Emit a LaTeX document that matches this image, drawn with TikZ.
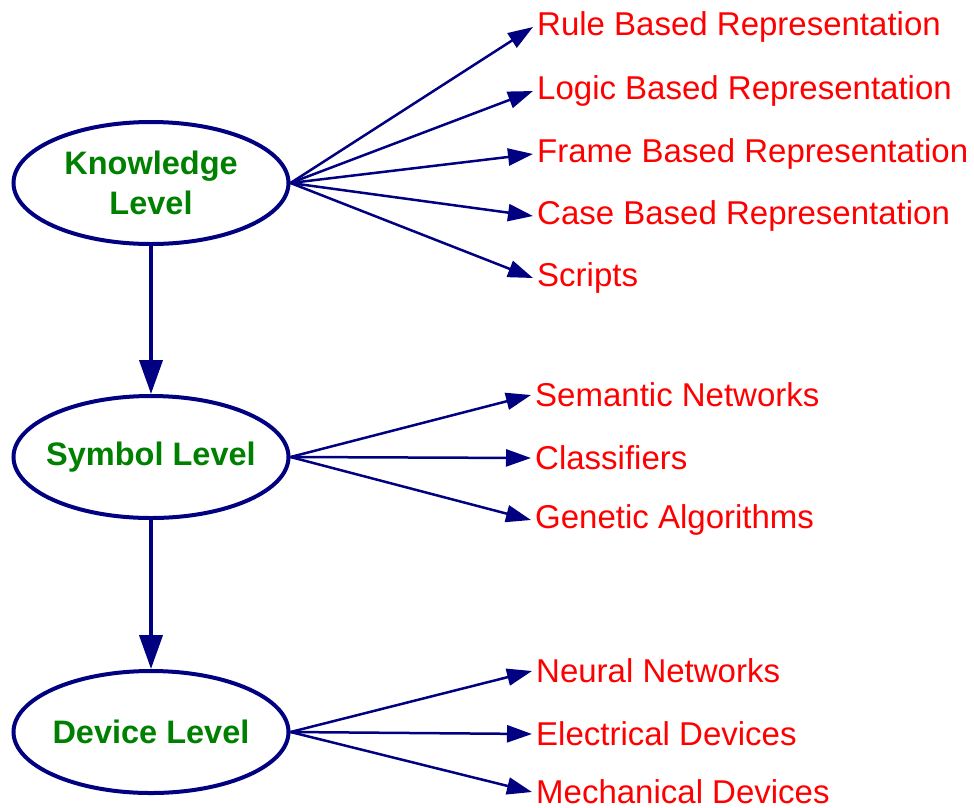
\documentclass[tikz,border=0pt]{standalone}
\usepackage{fontspec}
\setmainfont{Liberation Sans}
\usetikzlibrary{arrows.meta,shapes.geometric}
\definecolor{navyline}{RGB}{0,0,128}
\definecolor{levelgreen}{RGB}{0,128,0}
\begin{document}
\begin{tikzpicture}[x=1pt,y=-1pt,
    level/.style={ellipse,draw=navyline,line width=4pt,minimum width=275pt,minimum height=122pt,
      inner xsep=-40pt,inner ysep=0pt,align=center,text=levelgreen,font=\fontsize{32.5}{40}\selectfont\bfseries},
    item/.style={anchor=west,inner xsep=4pt,inner ysep=0pt,text=red,font=\fontsize{33}{38}\selectfont},
    down/.style={navyline,line width=4pt,-{Triangle[length=34pt,width=23pt]}},
    fan/.style={navyline,line width=2.5pt,-{Triangle[length=25pt,width=17pt]}}]

            \useasboundingbox (0,0) rectangle (974,807);

            % Levels
            \node[level] (know) at (151,183) {Knowledge\\Level};
            \node[level] (sym) at (151,457) {Symbol Level};
            \node[level] (dev) at (151,732) {Device Level};

            % Representations
            \node[item] (rule) at (533,27) {Rule Based Representation};
            \node[item] (logic) at (533,91) {Logic Based Representation};
            \node[item] (frame) at (533,154) {Frame Based Representation};
            \node[item] (case) at (533,216) {Case Based Representation};
            \node[item] (scripts) at (533,278) {Scripts};

            \node[item] (semnet) at (531,395) {Semantic Networks};
            \node[item] (classif) at (531,458) {Classifiers};
            \node[item] (genetic) at (531,520) {Genetic Algorithms};

            \node[item] (neural) at (532,671) {Neural Networks};
            \node[item] (elec) at (532,734) {Electrical Devices};
            \node[item] (mech) at (532,792) {Mechanical Devices};

            % Level arrows
            \draw[down] (know.south) -- (sym.north);
            \draw[down] (sym.south) -- (dev.north);

            % Fan arrows
            \foreach \t in {rule,logic,frame,case,scripts}
              \draw[fan] (know.east) -- (\t.west);
            \foreach \t in {semnet,classif,genetic}
              \draw[fan] (sym.east) -- (\t.west);
            \foreach \t in {neural,elec,mech}
              \draw[fan] (dev.east) -- (\t.west);

        \end{tikzpicture}
\end{document}
